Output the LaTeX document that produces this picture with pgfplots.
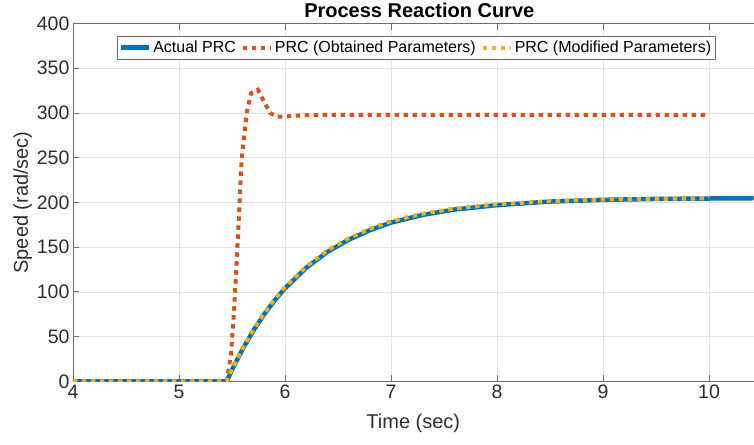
\documentclass[border=0pt]{standalone}
\usepackage{fontspec}
\setmainfont{Liberation Sans}
\usepackage{pgfplots}
\pgfplotsset{compat=1.18}

\definecolor{mblue}{RGB}{0,114,189}
\definecolor{mred}{RGB}{217,83,25}
\definecolor{myellow}{RGB}{237,177,32}
\definecolor{axgray}{RGB}{110,110,110}
\definecolor{txtgray}{RGB}{45,45,45}

\begin{document}
\begin{tikzpicture}
\begin{axis}[
  scale only axis, width=681pt, height=358pt,
  xmin=4, xmax=10.42, ymin=0, ymax=400,
  xtick={4,5,6,7,8,9,10}, ytick={0,50,...,400},
  axis x line*=box, axis y line*=left,
  axis line style={axgray, line width=0.8pt},
  tick style={axgray, line width=0.8pt},
  tick align=inside, major tick length=6pt,
  grid=major, major grid style={gray!22, line width=0.6pt},
  /pgf/number format/assume math mode=true,
  tick label style={font=\fontsize{19.5}{22}\selectfont, text=txtgray},
  label style={font=\fontsize{20}{23}\selectfont, text=txtgray},
  xlabel={Time (sec)}, ylabel={Speed (rad/sec)},
  xlabel style={yshift=-8pt}, ylabel style={yshift=-2pt},
  title={\textbf{Process Reaction Curve}},
  title style={font=\fontsize{20}{23}\selectfont, text=black, yshift=-4pt, xshift=6pt},
  legend columns=3,
  legend style={at={(0.504,0.966)}, anchor=north, draw=axgray, fill=white,
    font=\fontsize{16}{19}\selectfont, line width=0.6pt,
    inner xsep=2pt, inner ysep=3pt, text=black,
    /tikz/every even column/.append style={column sep=3pt}},
  legend image code/.code={\draw[#1] (0pt,0pt) -- (28pt,0pt);},
]
% Actual PRC
\addplot[mblue, line width=4.5pt] coordinates {
  (4,0) (5.45,0) (5.5,12.8) (5.6,36) (5.7,56.4) (5.8,74.4) (5.9,90.2)
  (6.0,104) (6.2,126.9) (6.4,144.7) (6.6,158.3) (6.8,168.9) (7.0,177.5)
  (7.3,186.1) (7.6,192.1) (8.0,197) (8.5,201) (9.0,202.9) (9.5,203.9)
  (10.0,204.4) (10.42,204.7)
};
% PRC (Obtained Parameters)
\addplot[mred, line width=4pt, dash pattern=on 4.5pt off 4.5pt] coordinates {
  (4,0) (5.45,0) (5.49,30) (5.52,80) (5.56,170) (5.59,247) (5.64,301)
  (5.68,322) (5.745,326) (5.80,313) (5.86,300) (5.92,296) (6.0,296)
  (6.1,297) (6.3,298) (10,298)
};
% PRC (Modified Parameters)
\addplot[myellow, line width=4pt, dash pattern=on 4.5pt off 4.5pt] coordinates {
  (4,0) (5.45,0) (5.5,13.5) (5.6,37) (5.7,57.5) (5.8,75.5) (5.9,91.5)
  (6.0,105.5) (6.2,128.5) (6.4,146.5) (6.6,160) (6.8,170.5) (7.0,179)
  (7.3,187.5) (7.6,193.3) (8.0,198) (8.5,201.5) (9.0,203.2) (9.5,204)
  (10.0,204.5)
};
\legend{Actual PRC, PRC (Obtained Parameters), PRC (Modified Parameters)}
\end{axis}
% page margins as in the reference
\path ([xshift=-73pt,yshift=-63pt]current axis.south west) rectangle ([yshift=20pt]current axis.north east);
\end{tikzpicture}
\end{document}
